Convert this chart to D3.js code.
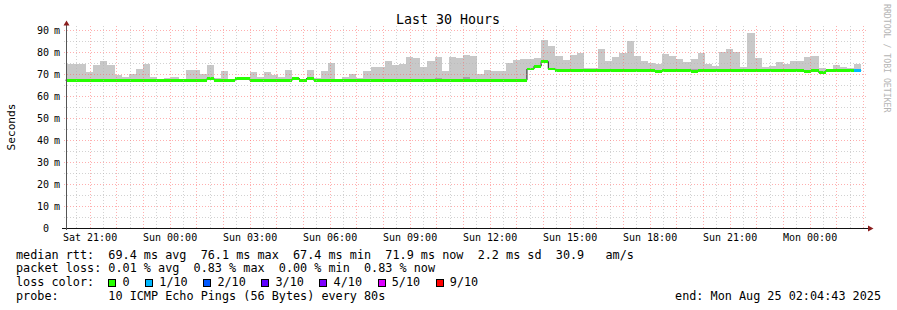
<!DOCTYPE html>
<html>
<head>
<meta charset="utf-8">
<script src="https://cdn.jsdelivr.net/npm/d3@7"></script>
<style>
  html, body { margin: 0; padding: 0; background: #fff; }
  svg text { font-family: "DejaVu Sans Mono", monospace; white-space: pre; }
</style>
</head>
<body>
<div id="chart"></div>
<script>
// time window (shown as UTC so labels stay as printed)
const END_TIME = Date.UTC(2025, 7, 25, 2, 4, 43);
const START_TIME = END_TIME - 30 * 3600 * 1000;
const FIRST_EDGE = Date.UTC(2025, 7, 23, 20, 19, 0);
const BIN_MINUTES = 16;

// max ping per bin (ms)
const SMOKE_MAX = [
    75.0, 74.8, 75.0, 71.3, 74.2, 76.3, 74.2, 69.6, 69.0, 70.4,
    72.7, 75.0, 69.0, 68.0, 68.6, 69.0, 67.9, 72.2, 72.2, 70.4,
    74.5, 68.6, 71.8, 68.1, 68.1, 68.1, 71.3, 69.0, 71.3, 69.9,
    68.7, 72.2, 69.0, 68.1, 72.2, 68.6, 71.8, 75.4, 67.6, 69.0,
    70.4, 68.6, 71.8, 73.6, 73.6, 76.3, 74.5, 75.0, 78.2, 77.7,
    73.6, 76.3, 78.2, 71.8, 78.2, 77.7, 79.1, 78.6, 70.4, 72.2,
    71.8, 71.8, 75.4, 76.8, 77.2, 77.2, 77.7, 85.9, 83.2, 78.6,
    76.8, 79.1, 80.0, 73.1, 73.1, 81.4, 76.3, 78.2, 80.0, 85.4,
    78.6, 76.3, 75.4, 75.0, 79.5, 78.6, 77.2, 75.9, 77.2, 80.0,
    75.0, 74.0, 80.4, 81.8, 80.4, 73.6, 89.1, 77.7, 73.6, 74.0,
    75.9, 75.0, 76.3, 76.3, 78.2, 78.6, 73.1, 72.5, 74.5, 73.6,
    73.1, 75.0
];

// median rtt per bin (ms)
const MEDIAN = [
    67.4, 67.4, 67.4, 67.4, 67.4, 67.4, 67.4, 67.4, 67.4, 67.4,
    67.4, 67.4, 67.4, 67.4, 67.4, 67.4, 67.4, 67.4, 67.4, 67.4,
    68.1, 67.4, 67.4, 67.4, 68.1, 68.1, 67.4, 67.4, 67.4, 67.4,
    67.4, 67.4, 68.2, 67.4, 68.2, 67.4, 67.4, 67.4, 67.4, 67.4,
    67.4, 67.4, 67.4, 67.4, 67.4, 67.4, 67.4, 67.4, 67.4, 67.4,
    67.4, 67.4, 67.4, 67.4, 67.4, 67.4, 67.4, 67.4, 67.4, 67.4,
    67.4, 67.4, 67.4, 67.4, 67.4, 72.5, 73.8, 75.9, 72.5, 71.7,
    71.7, 71.7, 71.7, 71.7, 71.7, 71.7, 71.7, 71.7, 71.7, 71.7,
    71.7, 71.7, 71.7, 71.3, 71.7, 71.7, 71.7, 71.7, 71.4, 71.7,
    71.7, 71.7, 71.7, 71.7, 71.7, 71.7, 71.7, 71.7, 71.7, 71.7,
    71.7, 71.7, 71.7, 71.7, 71.3, 71.7, 71.0, 71.7, 71.7, 71.7,
    71.7, 71.8
];

// loss bucket per bin (index into LOSS_COLORS)
const LOSS = [
    0, 0, 0, 0, 0, 0, 0, 0, 0, 0, 0, 0, 0, 0, 0, 0, 0, 0, 0, 0,
    0, 0, 0, 0, 0, 0, 0, 0, 0, 0, 0, 0, 0, 0, 0, 0, 0, 0, 0, 0,
    0, 0, 0, 0, 0, 0, 0, 0, 0, 0, 0, 0, 0, 0, 0, 0, 0, 0, 0, 0,
    0, 0, 0, 0, 0, 0, 0, 0, 0, 0, 0, 0, 0, 0, 0, 0, 0, 0, 0, 0,
    0, 0, 0, 0, 0, 0, 0, 0, 0, 0, 0, 0, 0, 0, 0, 0, 0, 0, 0, 0,
    0, 0, 0, 0, 0, 0, 0, 0, 0, 0, 0, 1
];

// second (darker) smoke layer, only a few bins show it
const INNER_BINS = [39, 52, 55, 56, 69, 71, 79, 88];
const INNER_TOP = [68.1, 68.6, 68.1, 69.0, 72.6, 72.6, 72.6, 72.4];

const LOSS_LABELS = ["0", "1/10", "2/10", "3/10", "4/10", "5/10", "9/10"];
const LOSS_COLORS = ["#26ff00", "#00b8ff", "#0059ff", "#5e00ff", "#7e00ff", "#dd00ff", "#ff0000"];

const Y_TICKS = [0, 10, 20, 30, 40, 50, 60, 70, 80, 90];
const X_TICKS = [
    "2025-08-23T21:00:00Z", "2025-08-24T00:00:00Z", "2025-08-24T03:00:00Z",
    "2025-08-24T06:00:00Z", "2025-08-24T09:00:00Z", "2025-08-24T12:00:00Z",
    "2025-08-24T15:00:00Z", "2025-08-24T18:00:00Z", "2025-08-24T21:00:00Z",
    "2025-08-25T00:00:00Z"
];

const LEGEND_LINES = [
    "median rtt:  69.4 ms avg  76.1 ms max  67.4 ms min  71.9 ms now  2.2 ms sd  30.9   am/s",
    "packet loss: 0.01 % avg  0.83 % max  0.00 % min  0.83 % now",
    "loss color:",
    "probe:       10 ICMP Echo Pings (56 Bytes) every 80s"
];

const drawChart = () => {
    const width = 897, height = 310;
    const left = 65.5, right = 865.5, top = 28, bottom = 228;
    const cw = 7.1; // legend char width

    const svg = d3.select("#chart").append("svg")
        .attr("width", width)
        .attr("height", height);

    svg.append("rect").attr("width", width).attr("height", height).attr("fill", "#fff");

    const x = d3.scaleUtc().domain([START_TIME, END_TIME]).range([left, right]);
    const y = d3.scaleLinear().domain([0, 91.2]).range([bottom, top]);
    const px = v => Math.floor(v) + 0.5;

    const bins = MEDIAN.map((m, i) => ({
        t0: i === 0 ? START_TIME : FIRST_EDGE + (i - 1) * BIN_MINUTES * 60000,
        t1: FIRST_EDGE + i * BIN_MINUTES * 60000,
        median: m,
        max: SMOKE_MAX[i],
        loss: LOSS[i]
    }));

    const smoke = svg.append("g").attr("shape-rendering", "crispEdges");

    smoke.selectAll(".smoke")
        .data(bins)
        .join("rect")
        .attr("class", "smoke")
        .attr("x", d => x(d.t0))
        .attr("width", d => x(d.t1) - x(d.t0))
        .attr("y", d => y(d.max))
        .attr("height", d => Math.max(0, y(d.median) - y(d.max)))
        .attr("fill", "#c8c8c8");

    smoke.selectAll(".smoke-inner")
        .data(INNER_BINS)
        .join("rect")
        .attr("class", "smoke-inner")
        .attr("x", i => x(bins[i].t0))
        .attr("width", i => x(bins[i].t1) - x(bins[i].t0))
        .attr("y", (i, k) => y(INNER_TOP[k]))
        .attr("height", (i, k) => Math.max(0, y(bins[i].median) - y(INNER_TOP[k])))
        .attr("fill", "#a4a4a4");

    // thin median step line (only the risers stay visible)
    const stepPts = bins.map(d => [d.t0, d.median]);
    stepPts.push([bins[bins.length - 1].t1, bins[bins.length - 1].median]);
    svg.append("path")
        .datum(stepPts)
        .attr("fill", "none")
        .attr("stroke", "#202020")
        .attr("stroke-width", 1)
        .attr("d", d3.line().x(d => x(d[0])).y(d => y(d[1])).curve(d3.curveStepAfter));

    // median band coloured by loss
    svg.append("g").attr("shape-rendering", "crispEdges")
        .selectAll(".median")
        .data(bins)
        .join("rect")
        .attr("class", "median")
        .attr("x", d => x(d.t0))
        .attr("width", d => x(d.t1) - x(d.t0))
        .attr("y", d => y(d.median) - 1.4)
        .attr("height", 2.8)
        .attr("fill", d => LOSS_COLORS[d.loss]);

    // grid on top
    const grid = svg.append("g").attr("shape-rendering", "crispEdges").attr("stroke-dasharray", "1,2");
    const halfHours = d3.utcMinute.every(30).range(new Date(START_TIME), new Date(END_TIME));
    grid.selectAll(".vgrid")
        .data(halfHours)
        .join("line")
        .attr("x1", d => px(x(d))).attr("x2", d => px(x(d)))
        .attr("y1", top - 2).attr("y2", bottom + 2)
        .attr("stroke", d => d.getUTCMinutes() === 0 ? "rgba(255,95,95,0.5)" : "rgba(180,180,180,0.6)");

    const fives = d3.range(5, 91, 5);
    grid.selectAll(".hgrid")
        .data(fives)
        .join("line")
        .attr("x1", left - 2).attr("x2", right + 2)
        .attr("y1", d => px(y(d))).attr("y2", d => px(y(d)))
        .attr("stroke", d => d % 10 === 0 ? "rgba(255,95,95,0.5)" : "rgba(180,180,180,0.6)");

    // axes
    svg.append("line")
        .attr("x1", 62).attr("x2", 868)
        .attr("y1", bottom + 0.5).attr("y2", bottom + 0.5)
        .attr("stroke", "#111");
    svg.append("line")
        .attr("x1", 66.5).attr("x2", 66.5)
        .attr("y1", bottom + 2).attr("y2", 25)
        .attr("stroke", "#555");
    svg.append("path")
        .attr("d", "M66.5,20.5 L63.5,25.5 L69.5,25.5 Z")
        .attr("fill", "#8b1e1e");
    svg.append("path")
        .attr("d", "M873.5,228.5 L868,225.5 L868,231.5 Z")
        .attr("fill", "#8b1e1e");

    // y labels
    const yl = svg.append("g").attr("font-size", 10).attr("fill", "#000");
    yl.selectAll(".ynum")
        .data(Y_TICKS)
        .join("text")
        .attr("class", "ynum")
        .attr("x", 49)
        .attr("y", d => y(d) + 3.8)
        .attr("text-anchor", "end")
        .text(d => d);
    yl.selectAll(".yunit")
        .data(Y_TICKS.filter(d => d > 0))
        .join("text")
        .attr("class", "yunit")
        .attr("x", 54)
        .attr("y", d => y(d) + 3.8)
        .text("m");

    // x labels
    const fmt = d3.utcFormat("%a %H:%M");
    svg.append("g").attr("font-size", 10)
        .selectAll("text")
        .data(X_TICKS.map(s => new Date(s)))
        .join("text")
        .attr("x", d => x(d))
        .attr("y", 241)
        .attr("text-anchor", "middle")
        .text(fmt);

    // title and vertical label
    svg.append("text")
        .attr("x", 448).attr("y", 24)
        .attr("text-anchor", "middle")
        .attr("font-size", 13.3)
        .text("Last 30 Hours");
    svg.append("text")
        .attr("transform", "translate(15,127) rotate(-90)")
        .attr("text-anchor", "middle")
        .attr("font-size", 11.2)
        .text("Seconds");
    svg.append("text")
        .attr("transform", "translate(884,4) rotate(90)")
        .attr("font-size", 8.2)
        .attr("fill", "#b4b4b4")
        .text("RRDTOOL / TOBI OETIKER");

    // legend
    const baselines = [258.5, 272.2, 285.9, 299.6];
    svg.append("g").attr("font-size", 11.8)
        .selectAll("text")
        .data(LEGEND_LINES)
        .join("text")
        .attr("x", 16)
        .attr("y", (d, i) => baselines[i])
        .text(d => d);

    let sx = 16 + 13 * cw;
    LOSS_LABELS.forEach((lab, i) => {
        svg.append("rect")
            .attr("x", Math.round(sx) + 0.5).attr("y", 279.5)
            .attr("width", 7).attr("height", 7)
            .attr("fill", LOSS_COLORS[i])
            .attr("stroke", "#000");
        svg.append("text")
            .attr("x", sx + 2 * cw).attr("y", baselines[2])
            .attr("font-size", 11.8)
            .text(lab);
        sx += 2 * cw + lab.length * cw + 15.5;
    });

    svg.append("text")
        .attr("x", 881).attr("y", baselines[3])
        .attr("text-anchor", "end")
        .attr("font-size", 11.8)
        .text("end: Mon Aug 25 02:04:43 2025");
};

window.addEventListener("DOMContentLoaded", drawChart, {once: true});
</script>
</body>
</html>
